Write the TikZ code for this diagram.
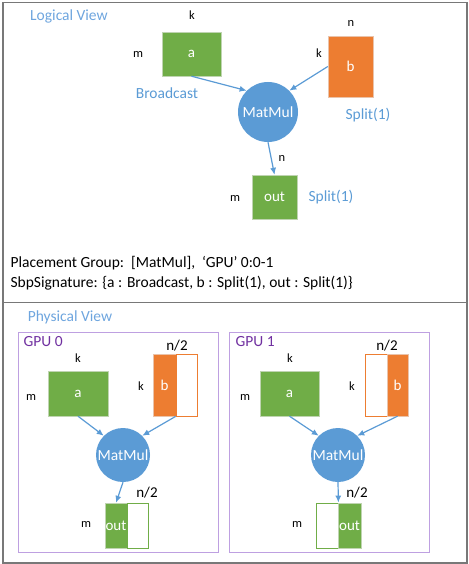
\documentclass[tikz,border=0pt]{standalone}
\usepackage{fontspec}
\setmainfont{Carlito}
\usetikzlibrary{arrows.meta}
\definecolor{tgreen}{RGB}{112,173,71}
\definecolor{torange}{RGB}{237,125,49}
\definecolor{opblue}{RGB}{91,155,213}
\definecolor{viewblue}{RGB}{110,165,222}
\definecolor{gpupurple}{RGB}{112,48,160}
\definecolor{gpuframe}{RGB}{190,160,225}
\definecolor{framegray}{RGB}{120,120,120}

\begin{document}
\begin{tikzpicture}[x=1pt,y=-1pt,
    tensor/.style={fill=#1,draw=#1!85!black!40!white,line width=0.4pt,inner sep=0pt,
        text=white,font=\fontsize{15}{18}\selectfont},
    halfbox/.style={fill=white,draw=#1,line width=0.8pt,inner sep=0pt},
    op/.style={circle,fill=opblue,text=white,inner sep=0pt,font=\fontsize{15.5}{18}\selectfont},
    dimlbl/.style={font=\fontsize{12.5}{14}\selectfont},
    halflbl/.style={font=\fontsize{15}{17}\selectfont},
    sbplbl/.style={text=opblue,font=\fontsize{15.5}{18}\selectfont},
    viewlbl/.style={text=viewblue,font=\fontsize{15.5}{18}\selectfont},
    gpulbl/.style={text=gpupurple,anchor=west,font=\fontsize{15.5}{18}\selectfont},
    flow/.style={draw=opblue,line width=1.2pt,-{Latex[length=7pt,width=6pt]}}]

    \useasboundingbox (0,0) rectangle (468,564);

    % outer frame
    \draw[framegray,line width=1.5pt] (3,2.5) rectangle (467,563);
    \draw[framegray,line width=1pt] (3,302.5) -- (467,302.5);

    % logical view
    % nodes
    \node[viewlbl] (lv) at (69,16) {Logical View};
    \node[tensor=tgreen,minimum width=59pt,minimum height=44pt] (a) at (191.5,54) {a};
    \node[dimlbl] (ak) at (192,15) {k};
    \node[dimlbl] (am) at (138,54) {m};
    \node[sbplbl] (abc) at (167,93) {Broadcast};
    \node[tensor=torange,minimum width=45pt,minimum height=61pt] (b) at (350.5,66.5) {b};
    \node[dimlbl] (bn) at (351,23) {n};
    \node[dimlbl] (bk) at (319,53) {k};
    \node[sbplbl] (bsp) at (368,115) {Split(1)};
    \node[op,minimum size=60pt] (mm) at (268,112) {MatMul};
    \node[tensor=tgreen,minimum width=45pt,minimum height=44pt] (out) at (274.5,197) {out};
    \node[dimlbl] (outn) at (282,158) {n};
    \node[dimlbl] (outm) at (235,198) {m};
    \node[sbplbl] (outsp) at (331,197) {Split(1)};

    % paths
    \draw[flow] (a.south) -- (mm.135); % a -> MatMul
    \draw[flow] (b.west) -- (mm.45); % b -> MatMul
    \draw[flow] (mm.south) -- (out.north); % MatMul -> out

    % placement and signature
    \node[anchor=west,font=\fontsize{15.5}{18}\selectfont] (pg) at (7,263)
        {Placement Group:\ \ [MatMul],\ \ ‘GPU’ 0:0-1};
    \node[anchor=west,font=\fontsize{15.5}{18}\selectfont] (sig) at (7,283)
        {SbpSignature: \{a : Broadcast, b : Split(1), out : Split(1)\}};

    % physical view
    \node[viewlbl] (pv) at (70,317) {Physical View};

    % GPU 0
    \draw[gpuframe,line width=1pt] (18,332) rectangle (218,552);
    \node[gpulbl] (g0) at (20,342) {GPU 0};
    \node[tensor=tgreen,minimum width=60pt,minimum height=45pt] (a0) at (78,393.5) {a};
    \node[dimlbl] (a0k) at (78,358) {k};
    \node[dimlbl] (a0m) at (31,397) {m};
    \node[tensor=torange,minimum width=23pt,minimum height=62pt] (bo0) at (164.5,385) {b};
    \node[halfbox=torange,minimum width=21pt,minimum height=62pt] (bw0) at (186.5,385) {};
    \node[halflbl] (b0n) at (177,346) {n/2};
    \node[dimlbl] (b0k) at (141,386) {k};
    \node[op,minimum size=54pt] (mm0) at (123,455) {MatMul};
    \node[tensor=tgreen,minimum width=22pt,minimum height=45pt] (og0) at (116,525.5) {out};
    \node[halfbox=tgreen,minimum width=21pt,minimum height=45pt] (ow0) at (137.5,525.5) {};
    \node[halflbl] (o0n) at (147,493) {n/2};
    \node[dimlbl] (o0m) at (86,524) {m};

    \draw[flow] (a0.south) -- (mm0.135); % a -> MatMul
    \draw[flow] (bw0.south west) -- (mm0.45); % b -> MatMul
    \draw[flow] (mm0.south) -- (og0.north); % MatMul -> out

    % GPU 1
    \draw[gpuframe,line width=1pt] (229,332) rectangle (429,552);
    \node[gpulbl] (g1) at (232,342) {GPU 1};
    \node[tensor=tgreen,minimum width=59pt,minimum height=45pt] (a1) at (289.5,393.5) {a};
    \node[dimlbl] (a1k) at (290,358) {k};
    \node[dimlbl] (a1m) at (245,397) {m};
    \node[halfbox=torange,minimum width=22pt,minimum height=62pt] (bw1) at (376,385) {};
    \node[tensor=torange,minimum width=21pt,minimum height=62pt] (bo1) at (397.5,385) {b};
    \node[halflbl] (b1n) at (387,346) {n/2};
    \node[dimlbl] (b1k) at (352,386) {k};
    \node[op,minimum size=54pt] (mm1) at (338,455) {MatMul};
    \node[halfbox=tgreen,minimum width=22pt,minimum height=45pt] (ow1) at (327,525.5) {};
    \node[tensor=tgreen,minimum width=23pt,minimum height=45pt] (og1) at (349.5,525.5) {out};
    \node[halflbl] (o1n) at (357,493) {n/2};
    \node[dimlbl] (o1m) at (297,524) {m};

    \draw[flow] (a1.south) -- (mm1.135); % a -> MatMul
    \draw[flow] (bo1.south) -- (mm1.45); % b -> MatMul
    \draw[flow] (mm1.south) -- (ow1.north east); % MatMul -> out

\end{tikzpicture}
\end{document}
